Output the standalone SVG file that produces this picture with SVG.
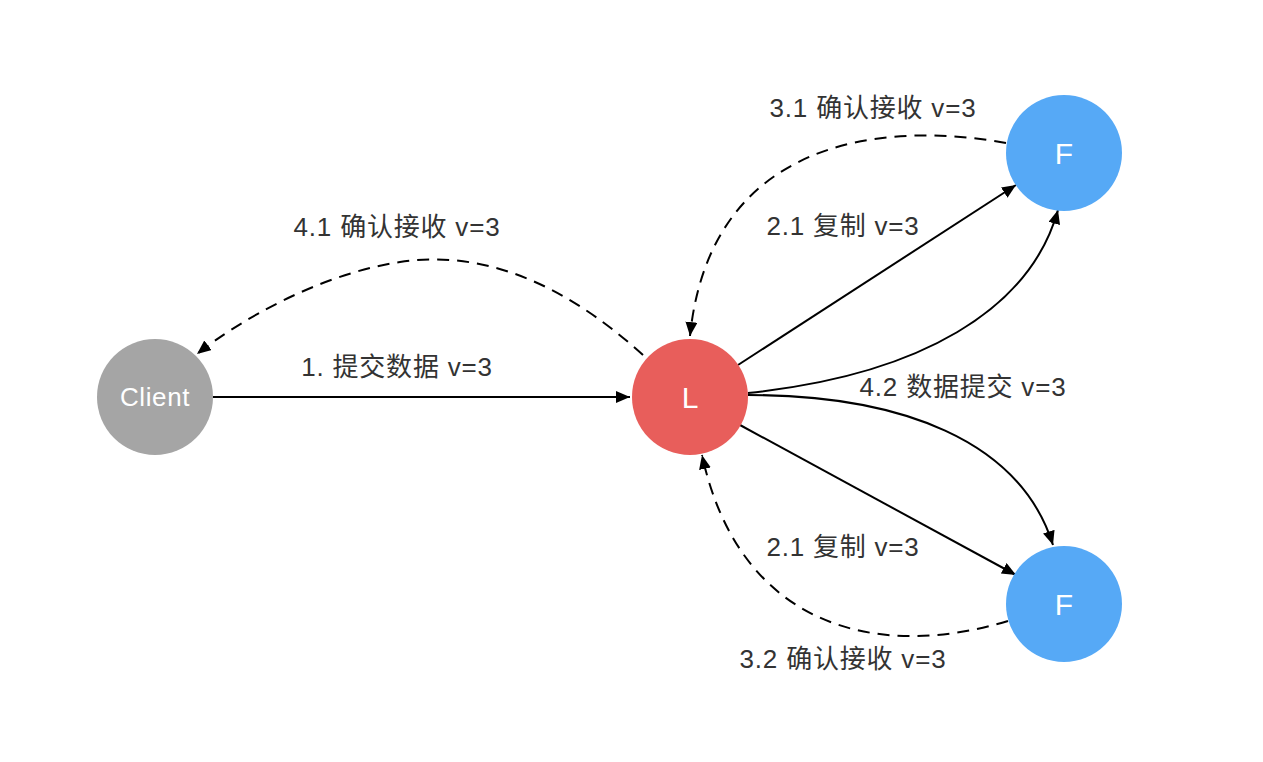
<svg xmlns="http://www.w3.org/2000/svg" width="1263" height="762" viewBox="0 0 1263 762">
<style>
.edge{fill:none;stroke:#000;stroke-width:2}
.dash{stroke-dasharray:12 8}
.lbl{font-family:"Liberation Sans","Noto Sans CJK SC",sans-serif;font-size:26px;letter-spacing:0.8px;fill:#333;text-anchor:middle}
.ntxt{font-family:"Liberation Sans","Noto Sans CJK SC",sans-serif;fill:#fff;text-anchor:middle}
</style>
<defs>
<marker id="ah" markerUnits="userSpaceOnUse" markerWidth="16" markerHeight="14" refX="14" refY="6" orient="auto">
<path d="M0,0 L14,6 L0,12 Z" fill="#000"/>
</marker>
</defs>
<rect width="1263" height="762" fill="#fff"/>
<g id="connectors">
<path class="edge" d="M213,397 L630,397" marker-end="url(#ah)"/>
<path class="edge dash" d="M643,355 C560,280 480,250 400,262 C320,274 240,320 197,354" marker-end="url(#ah)"/>
<path class="edge dash" d="M1006,143 C880,120 710,140 690,336" marker-end="url(#ah)"/>
<path class="edge" d="M738,365 L1016,185" marker-end="url(#ah)"/>
<path class="edge" d="M748,393 C920,375 1030,310 1058,210" marker-end="url(#ah)"/>
<path class="edge" d="M748,395 C900,395 1020,440 1053,545" marker-end="url(#ah)"/>
<path class="edge" d="M740,425 L1016,575" marker-end="url(#ah)"/>
<path class="edge dash" d="M1008,621 C880,660 740,630 702,455" marker-end="url(#ah)"/>
</g>
<g id="labels">
<text class="lbl" x="873" y="117">3.1 确认接收 v=3</text>
<text class="lbl" x="397" y="236">4.1 确认接收 v=3</text>
<text class="lbl" x="843" y="235">2.1 复制 v=3</text>
<text class="lbl" x="397" y="376">1. 提交数据 v=3</text>
<text class="lbl" x="963" y="396">4.2 数据提交 v=3</text>
<text class="lbl" x="843" y="556">2.1 复制 v=3</text>
<text class="lbl" x="843" y="668">3.2 确认接收 v=3</text>
</g>
<g id="client">
<circle cx="155" cy="397" r="58" fill="#a5a5a5"/>
<text class="ntxt" x="155" y="406" font-size="26" letter-spacing="0.6">Client</text>
</g>
<g id="leader">
<circle cx="690" cy="397" r="58" fill="#e85e5b"/>
<text class="ntxt" x="690" y="408" font-size="30">L</text>
</g>
<g id="follower1">
<circle cx="1064" cy="153" r="58" fill="#56a9f6"/>
<text class="ntxt" x="1064" y="164" font-size="30">F</text>
</g>
<g id="follower2">
<circle cx="1064" cy="604" r="58" fill="#56a9f6"/>
<text class="ntxt" x="1064" y="615" font-size="30">F</text>
</g>
</svg>
